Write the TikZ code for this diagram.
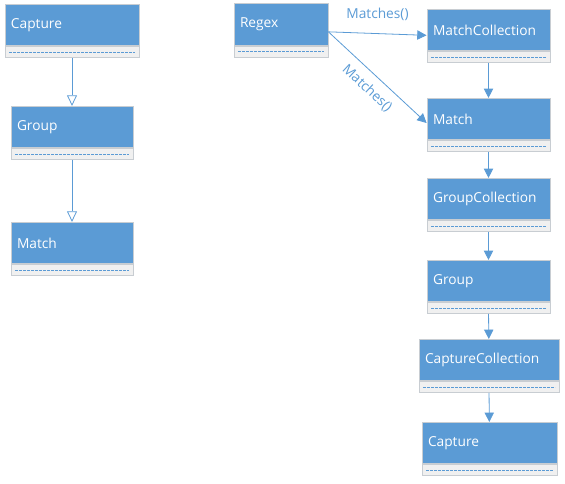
\documentclass[tikz,border=0pt]{standalone}
\usepackage{fontspec}
\setmainfont{Open Sans}
\usetikzlibrary{positioning,arrows.meta}
\definecolor{umlblue}{HTML}{5B9BD5}
\definecolor{edgegray}{HTML}{C8CDD2}
\definecolor{footgray}{HTML}{F0F0F0}
\begin{document}
\begin{tikzpicture}[x=0.75pt,y=-0.75pt,
classhead/.style={rectangle,fill=umlblue,draw=edgegray,line width=0.6pt,text=white,font=\fontsize{10.3}{12}\selectfont,
  minimum height=31pt,inner xsep=4.5pt,inner ysep=0pt,text width=#1,align=left},
classfoot/.style={rectangle,fill=footgray,draw=edgegray,line width=0.6pt,minimum width=#1,minimum height=8.25pt,inner sep=0pt,
  path picture={\draw[umlblue,line width=0.5pt,dash pattern=on 2pt off 1pt]
    ([xshift=3pt]path picture bounding box.west) -- ([xshift=-3pt]path picture bounding box.east);}},
inherit/.style={draw=umlblue,line width=0.6pt,-{Triangle[open,length=8pt,width=7.5pt]}},
assoc/.style={draw=umlblue,line width=0.6pt,-{Triangle[length=7pt,width=7pt]}},
calllabel/.style={text=umlblue,font=\fontsize{10.3}{12}\selectfont}]
\useasboundingbox (0,0) rectangle (565,483);

% left column
\node[classhead=91.5pt] (capL) at (72,25) {Capture};
\node[classfoot=100.5pt,below=0pt of capL] (capLf) {};
\node[classhead=82.5pt] (grpL) at (72,127) {Group};
\node[classfoot=91.5pt,below=0pt of grpL] (grpLf) {};
\node[classhead=82.5pt] (matL) at (72,243) {Match};
\node[classfoot=91.5pt,below=0pt of matL] (matLf) {};

\draw[inherit] (capLf) -- (grpL);
\draw[inherit] (grpLf) -- (matL);

% right column
\node[classhead=61.5pt] (regex) at (281,24.5) {Regex};
\node[classfoot=70.5pt,below=0pt of regex] (regexf) {};
\node[classhead=83.25pt] (mcoll) at (488.5,30) {MatchCollection};
\node[classfoot=92.25pt,below=0pt of mcoll] (mcollf) {};
\node[classhead=83.25pt] (match) at (488.5,119) {Match};
\node[classfoot=92.25pt,below=0pt of match] (matchf) {};
\node[classhead=83.25pt] (gcoll) at (488.5,199) {GroupCollection};
\node[classfoot=92.25pt,below=0pt of gcoll] (gcollf) {};
\node[classhead=83.25pt] (group) at (488.5,281) {Group};
\node[classfoot=92.25pt,below=0pt of group] (groupf) {};
\node[classhead=96pt] (ccoll) at (489,360) {CaptureCollection};
\node[classfoot=105pt,below=0pt of ccoll] (ccollf) {};
\node[classhead=92.25pt] (capR) at (489.5,443) {Capture};
\node[classfoot=101.25pt,below=0pt of capR] (capRf) {};

\coordinate (rxout) at ([yshift=-5.5pt]regex.east);
\draw[assoc] (rxout) -- ([yshift=-4pt]mcoll.west) node[midway,above=6pt,calllabel] {Matches()};
\draw[assoc] (rxout) -- ([yshift=-3pt]match.west) node[pos=0.5,sloped,below=3pt,calllabel] {Matches()};
\draw[assoc] (mcollf) -- (match);
\draw[assoc] (matchf) -- (gcoll);
\draw[assoc] (gcollf) -- (group);
\draw[assoc] (groupf) -- (ccoll);
\draw[assoc] (ccollf) -- (capR);

\end{tikzpicture}
\end{document}
